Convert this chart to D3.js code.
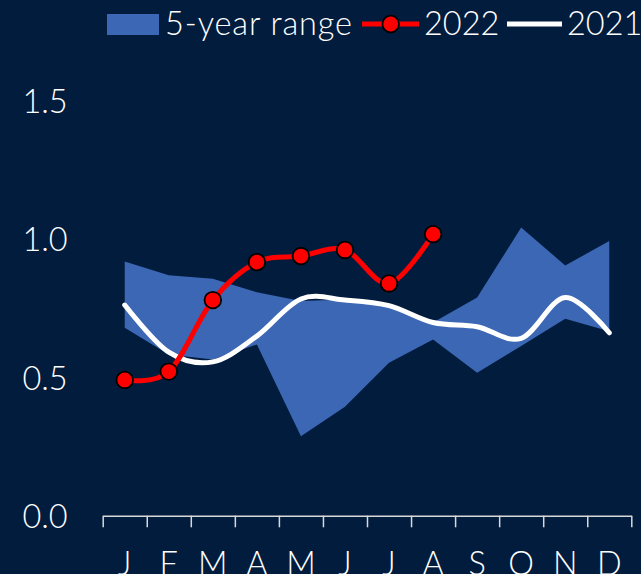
<!DOCTYPE html>
<html>
<head>
<meta charset="utf-8">
<script src="https://cdn.jsdelivr.net/npm/d3@7"></script>
<style>
  html, body { margin: 0; padding: 0; background: #021c3d; }
  svg { display: block; }
  text { font-family: Lato, "Open Sans", sans-serif; font-weight: 300; fill: #ffffff; }
</style>
</head>
<body>
<script>
// months (J..D), values
var months = ["J", "F", "M", "A", "M", "J", "J", "A", "S", "O", "N", "D"];
var rangeHigh = [0.917, 0.868, 0.855, 0.806, 0.775, 0.78, 0.756, 0.697, 0.787, 1.04, 0.903, 0.991];
var rangeLow  = [0.678, 0.582, 0.564, 0.618, 0.287, 0.393, 0.552, 0.636, 0.516, 0.612, 0.711, 0.666];
var y2022 = [0.49, 0.52, 0.778, 0.915, 0.937, 0.959, 0.838, 1.016];
var y2021 = [0.76, 0.59, 0.555, 0.648, 0.782, 0.778, 0.758, 0.697, 0.682, 0.64, 0.787, 0.66];
var yTicks = [0, 0.5, 1.0, 1.5];

var W = 641, H = 574;
var bandColor = "#3b67b4";

var svg = d3.select("body").append("svg")
    .attr("width", W)
    .attr("height", H);

svg.append("rect").attr("width", W).attr("height", H).attr("fill", "#021c3d");

// scales
var x = d3.scaleBand().domain(d3.range(months.length)).range([102.7, 631.3]);
var xEdge = d3.scaleLinear().domain([0, months.length]).range([102.7, 631.3]);
var y = d3.scaleLinear().domain([0, 1.5]).range([515.7, 100]);
var cx = function (i) { return x(i) + x.bandwidth() / 2; };

// y labels (no axis line)
svg.append("g").selectAll("text")
    .data(yTicks)
    .enter().append("text")
    .attr("x", 67.7)
    .attr("y", function (d) { return y(d); })
    .attr("text-anchor", "end")
    .attr("dominant-baseline", "central")
    .style("font-size", "32.5px")
    .text(function (d) { return d3.format(".1f")(d); });

// 5-year range band
var area = d3.area()
    .x(function (d, i) { return cx(i); })
    .y0(function (d, i) { return y(rangeLow[i]); })
    .y1(function (d) { return y(d); });
svg.append("path")
    .datum(rangeHigh)
    .attr("d", area)
    .attr("fill", bandColor);

// x axis
var xAxis = d3.axisBottom(xEdge)
    .tickValues(d3.range(months.length + 1))
    .tickFormat("")
    .tickSize(11.6)
    .tickSizeOuter(0);
var gx = svg.append("g").attr("transform", "translate(0," + y(0) + ")").call(xAxis);
gx.selectAll("path, line").attr("stroke", "#d9d9d9").attr("stroke-width", 1.5);

// month labels sit low, partly below the picture edge as in the original
svg.append("g").selectAll("text")
    .data(months)
    .enter().append("text")
    .attr("x", function (d, i) { return cx(i); })
    .attr("y", 575)
    .attr("text-anchor", "middle")
    .style("font-size", "32.5px")
    .text(function (d) { return d; });

// 2021 line
var smooth = d3.curveCardinal.tension(0);
var line = d3.line()
    .x(function (d, i) { return cx(i); })
    .y(function (d) { return y(d); })
    .curve(smooth);

svg.append("path")
    .datum(y2021)
    .attr("d", line)
    .attr("fill", "none")
    .attr("stroke", "#ffffff")
    .attr("stroke-width", 5)
    .attr("stroke-linecap", "round");

// 2022 line + markers
svg.append("path")
    .datum(y2022)
    .attr("d", line)
    .attr("fill", "none")
    .attr("stroke", "#ff0000")
    .attr("stroke-width", 5)
    .attr("stroke-linecap", "round");

svg.append("g").selectAll("circle")
    .data(y2022)
    .enter().append("circle")
    .attr("cx", function (d, i) { return cx(i); })
    .attr("cy", function (d) { return y(d); })
    .attr("r", 8.3)
    .attr("fill", "#ff0000")
    .attr("stroke", "#000000")
    .attr("stroke-width", 1.8);

// legend
var lg = svg.append("g");
lg.append("rect").attr("x", 107).attr("y", 14).attr("width", 52).attr("height", 21).attr("fill", bandColor);
lg.append("text").attr("x", 165).attr("y", 34.7).style("font-size", "32.5px")
    .style("letter-spacing", "0.9px").text("5-year range");

lg.append("line").attr("x1", 362).attr("x2", 419).attr("y1", 24).attr("y2", 24)
    .attr("stroke", "#ff0000").attr("stroke-width", 5);
lg.append("circle").attr("cx", 390.7).attr("cy", 24).attr("r", 8.3)
    .attr("fill", "#ff0000").attr("stroke", "#000000").attr("stroke-width", 1.8);
lg.append("text").attr("x", 424).attr("y", 34.7).style("font-size", "32.5px").text("2022");

lg.append("line").attr("x1", 507).attr("x2", 562).attr("y1", 24).attr("y2", 24)
    .attr("stroke", "#ffffff").attr("stroke-width", 5);
lg.append("text").attr("x", 567).attr("y", 34.7).style("font-size", "32.5px").text("2021");
</script>
</body>
</html>
